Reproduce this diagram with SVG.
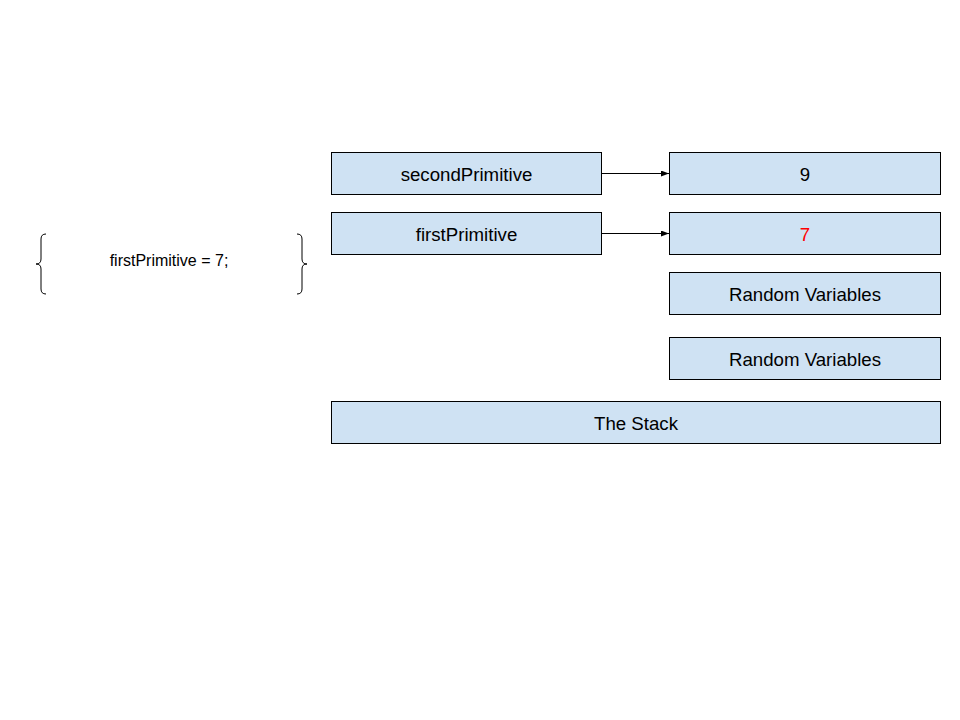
<svg xmlns="http://www.w3.org/2000/svg" width="960" height="720" viewBox="0 0 960 720">
<defs>
<style>
.box{fill:#cfe2f3;stroke:#000;stroke-width:1}
.t{font-family:"Liberation Sans",Arial,sans-serif;font-size:18.67px;text-anchor:middle;fill:#000}
.c{stroke:#000;stroke-width:1;fill:none}
.br{stroke:#000;stroke-width:1;fill:none}
</style>
<marker id="ah" markerWidth="8" markerHeight="6" refX="8" refY="3" orient="auto" markerUnits="userSpaceOnUse">
<path d="M0,0 L8,3 L0,6 Z" fill="#000"/>
</marker>
</defs>
<rect width="960" height="720" fill="#fff"/>
<g id="code">
<path class="br" d="M46,234 Q41,234 41,239 L41,259 Q41,264 36,264 Q41,264 41,269 L41,289 Q41,294 46,294"/>
<path class="br" d="M297,234 Q302,234 302,239 L302,259 Q302,264 307,264 Q302,264 302,269 L302,289 Q302,294 297,294"/>
<text x="169" y="266" font-family="Liberation Sans,Arial,sans-serif" font-size="16" text-anchor="middle">firstPrimitive = 7;</text>
</g>
<g id="secondPrimitive"><rect class="box" x="331.5" y="152.5" width="270" height="42"/><text class="t" x="466.5" y="180.5">secondPrimitive</text></g>
<g id="firstPrimitive"><rect class="box" x="331.5" y="212.5" width="270" height="42"/><text class="t" x="466.5" y="240.5">firstPrimitive</text></g>
<g id="val9"><rect class="box" x="669.5" y="152.5" width="271" height="42"/><text class="t" x="805" y="180.5">9</text></g>
<g id="val7"><rect class="box" x="669.5" y="212.5" width="271" height="42"/><text class="t" x="805" y="240.5" style="fill:#ff0000">7</text></g>
<g id="random1"><rect class="box" x="669.5" y="272.5" width="271" height="42"/><text class="t" x="805" y="300.5">Random Variables</text></g>
<g id="random2"><rect class="box" x="669.5" y="337.5" width="271" height="42"/><text class="t" x="805" y="365.5">Random Variables</text></g>
<g id="stack"><rect class="box" x="331.5" y="401.5" width="609" height="42"/><text class="t" x="636" y="429.5">The Stack</text></g>
<g id="connectors">
<line class="c" x1="601.5" y1="173.5" x2="669" y2="173.5" marker-end="url(#ah)"/>
<line class="c" x1="601.5" y1="233.5" x2="669" y2="233.5" marker-end="url(#ah)"/>
</g>
</svg>
